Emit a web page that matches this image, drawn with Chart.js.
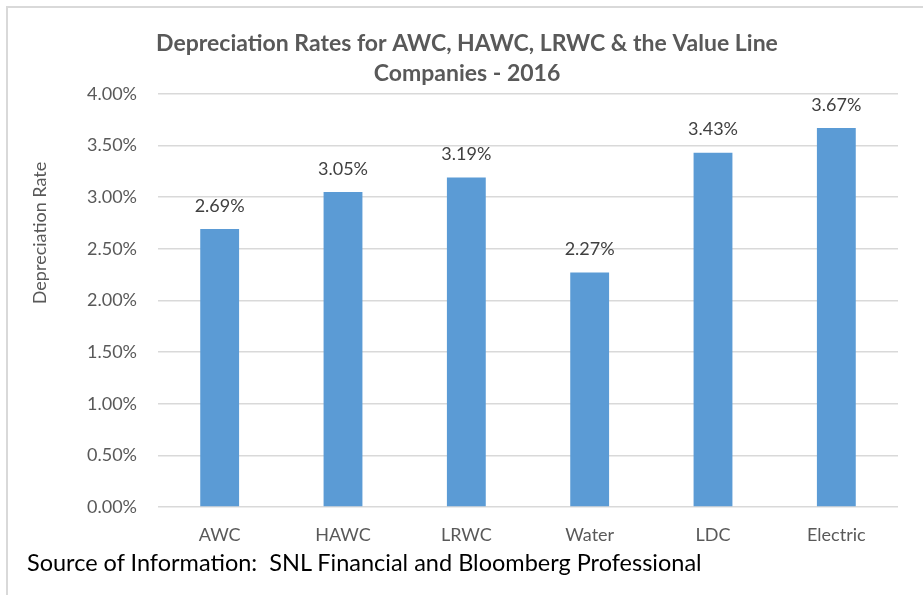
<!DOCTYPE html>
<html>
<head>
<meta charset="utf-8">
<script src="https://cdn.jsdelivr.net/npm/chart.js@4.4.0/dist/chart.umd.min.js"></script>
<style>
  html, body { margin: 0; padding: 0; background: #fff; overflow: hidden; }
  #wrap { position: relative; width: 923px; height: 595px; }
  #frame {
    position: absolute; left: 6px; top: 6px; width: 940px; height: 600px;
    border-top: 2px solid #d9d9d9; border-left: 2px solid #d9d9d9;
  }
  #chart { position: absolute; left: 0; top: 0; }
  #source {
    position: absolute; left: 27px; top: 551px;
    font-family: Lato, sans-serif; font-size: 23.5px; line-height: 23.5px;
    color: #000; white-space: pre;
  }
</style>
</head>
<body>
<div id="wrap">
  <div id="frame"></div>
  <canvas id="chart" width="923" height="595"></canvas>
  <div id="source">Source of Information:  SNL Financial and Bloomberg Professional</div>
</div>
<script>
// categories and depreciation rates (percent)
const categories = ['AWC', 'HAWC', 'LRWC', 'Water', 'LDC', 'Electric'];
const rates = [2.69, 3.05, 3.19, 2.27, 3.43, 3.67];

// y axis ticks
const yMin = 0;
const yMax = 4;
const yStep = 0.5;

const titleLines = ['Depreciation Rates for AWC, HAWC, LRWC & the Value Line', 'Companies - 2016'];
const yTitle = 'Depreciation Rate';

const textGray = '#595959';
const labelGray = '#404040';

// value labels above each bar
const barLabels = {
  id: 'barLabels',
  afterDatasetsDraw(chart) {
    const ctx = chart.ctx;
    const meta = chart.getDatasetMeta(0);
    ctx.save();
    ctx.font = '18px Lato, sans-serif';
    ctx.fillStyle = labelGray;
    ctx.textAlign = 'center';
    ctx.textBaseline = 'middle';
    meta.data.forEach((bar, i) => {
      ctx.fillText(rates[i].toFixed(2) + '%', bar.x, bar.y - 23);
    });
    ctx.restore();
  }
};

// y axis title, placed where the original has it (above the axis middle)
const yAxisTitle = {
  id: 'yAxisTitle',
  afterDraw(chart) {
    const ctx = chart.ctx;
    ctx.save();
    ctx.translate(40, 233);
    ctx.rotate(-Math.PI / 2);
    ctx.font = '18px Lato, sans-serif';
    ctx.fillStyle = textGray;
    ctx.textAlign = 'center';
    ctx.textBaseline = 'middle';
    ctx.fillText(yTitle, 0, 0);
    ctx.restore();
  }
};

new Chart(document.getElementById('chart'), {
  type: 'bar',
  data: {
    labels: categories,
    datasets: [{
      data: rates,
      backgroundColor: '#5b9bd5',
      borderWidth: 0,
      categoryPercentage: 1,
      barPercentage: 0.315
    }]
  },
  options: {
    responsive: false,
    animation: false,
    layout: { padding: { left: 36, right: 25, top: 0, bottom: 0 } },
    plugins: {
      legend: { display: false },
      tooltip: { enabled: false },
      title: {
        display: true,
        text: titleLines,
        color: textGray,
        font: { family: 'Lato, sans-serif', size: 23, weight: 'bold', lineHeight: 1.3 },
        padding: { top: 29, bottom: 5 }
      }
    },
    scales: {
      x: {
        grid: { display: false, drawTicks: false },
        border: { display: false },
        ticks: {
          color: textGray,
          font: { family: 'Lato, sans-serif', size: 18 },
          padding: 17
        },
        afterFit(scale) { scale.height = 88; }
      },
      y: {
        min: yMin,
        max: yMax,
        grid: { color: '#d9d9d9', lineWidth: 1.5, drawTicks: false },
        border: { display: false },
        ticks: {
          stepSize: yStep,
          color: textGray,
          font: { family: 'Lato, sans-serif', size: 18 },
          padding: 21,
          callback: v => v.toFixed(2) + '%'
        },
        afterFit(scale) { scale.width = 122; }
      }
    }
  },
  plugins: [barLabels, yAxisTitle]
});
</script>
</body>
</html>
